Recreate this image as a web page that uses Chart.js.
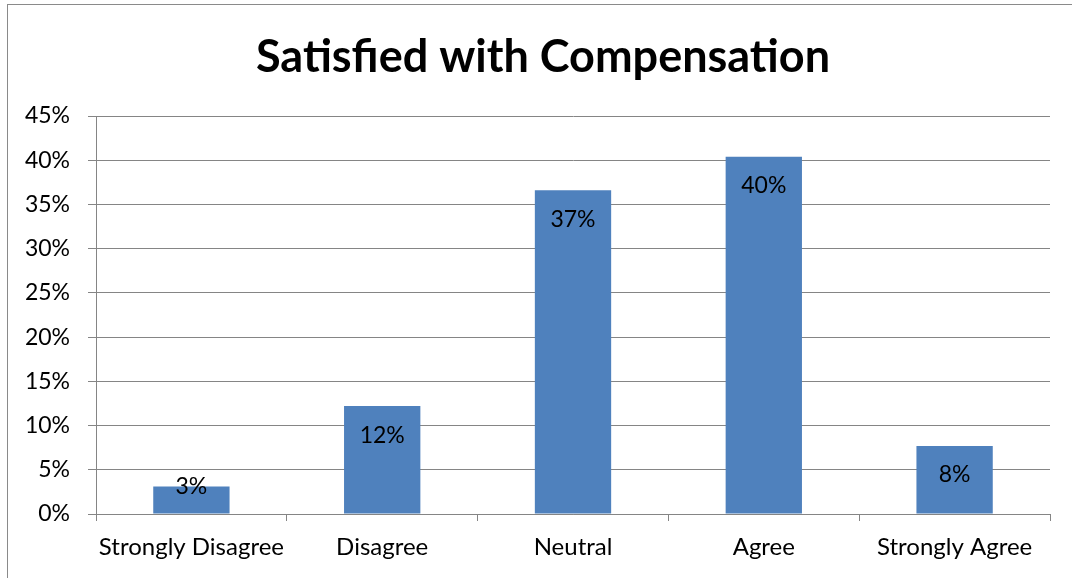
<!DOCTYPE html>
<html>
<head>
<meta charset="utf-8">
<script src="https://cdn.jsdelivr.net/npm/chart.js@4.4.1/dist/chart.umd.min.js"></script>
<style>
  html, body { margin: 0; padding: 0; background: #fff; overflow: hidden; }
  #frame {
    position: absolute; left: 7px; top: 4px;
    width: 2000px; height: 2000px;
    border-left: 1.5px solid #8a8a8a; border-top: 1.5px solid #8a8a8a;
  }
  #wrap { position: absolute; left: 0; top: 0; width: 1072px; height: 578px; }
</style>
</head>
<body>
<div id="frame"></div>
<div id="wrap"><canvas id="chart"></canvas></div>
<script>
// survey answers and share of respondents (%)
const categories = ["Strongly Disagree", "Disagree", "Neutral", "Agree", "Strongly Agree"];
const shares = [3.1, 12.2, 36.6, 40.4, 7.7];
const yTicks = [0, 5, 10, 15, 20, 25, 30, 35, 40, 45];
const chartTitle = "Satisfied with Compensation";

const FONT = "Lato, 'Open Sans', sans-serif";
const GRID = "#858585";

// title centred over the frame rather than over the canvas
const frameTitle = {
  id: "frameTitle",
  afterDraw(chart) {
    const ctx = chart.ctx;
    ctx.save();
    ctx.font = "bold 45px " + FONT;
    ctx.fillStyle = "#000";
    ctx.textAlign = "center";
    ctx.textBaseline = "alphabetic";
    ctx.fillText(chartTitle, 543, 72);
    ctx.restore();
  }
};

// value labels inside the top of each bar (centred on the top edge when the bar is short)
const barLabels = {
  id: "barLabels",
  afterDatasetsDraw(chart) {
    const ctx = chart.ctx;
    const meta = chart.getDatasetMeta(0);
    ctx.save();
    ctx.font = "23px " + FONT;
    ctx.fillStyle = "#000";
    ctx.textAlign = "center";
    ctx.textBaseline = "middle";
    meta.data.forEach((bar, i) => {
      const h = bar.base - bar.y;
      const y = h > 50 ? bar.y + 29 : bar.y;
      ctx.fillText(Math.round(shares[i]) + "%", bar.x, y);
    });
    ctx.restore();
  }
};

new Chart(document.getElementById("chart"), {
  type: "bar",
  data: {
    labels: categories,
    datasets: [{
      data: shares,
      backgroundColor: "#4f81bd",
      barPercentage: 0.4,
      categoryPercentage: 1.0
    }]
  },
  options: {
    responsive: true,
    maintainAspectRatio: false,
    animation: false,
    layout: { padding: { left: 0, right: 22, top: 116, bottom: 0 } },
    plugins: {
      legend: { display: false },
      tooltip: { enabled: false },
      title: { display: false }
    },
    scales: {
      x: {
        grid: { display: true, drawOnChartArea: false, drawTicks: true, tickLength: 7, color: GRID, offset: true },
        border: { color: GRID, width: 1 },
        ticks: { color: "#000", font: { family: FONT, size: 24 }, padding: 12, maxRotation: 0 },
        afterFit(scale) { scale.height = 64; }
      },
      y: {
        min: 0,
        max: 45,
        afterBuildTicks(scale) { scale.ticks = yTicks.map(v => ({ value: v })); },
        grid: { color: GRID, lineWidth: 1, drawTicks: true, tickLength: 8 },
        border: { color: GRID, width: 1 },
        ticks: {
          color: "#000",
          font: { family: FONT, size: 23 },
          padding: 18,
          callback: v => v + "%"
        },
        afterFit(scale) { scale.width = 96; }
      }
    }
  },
  plugins: [barLabels, frameTitle]
});
</script>
</body>
</html>
